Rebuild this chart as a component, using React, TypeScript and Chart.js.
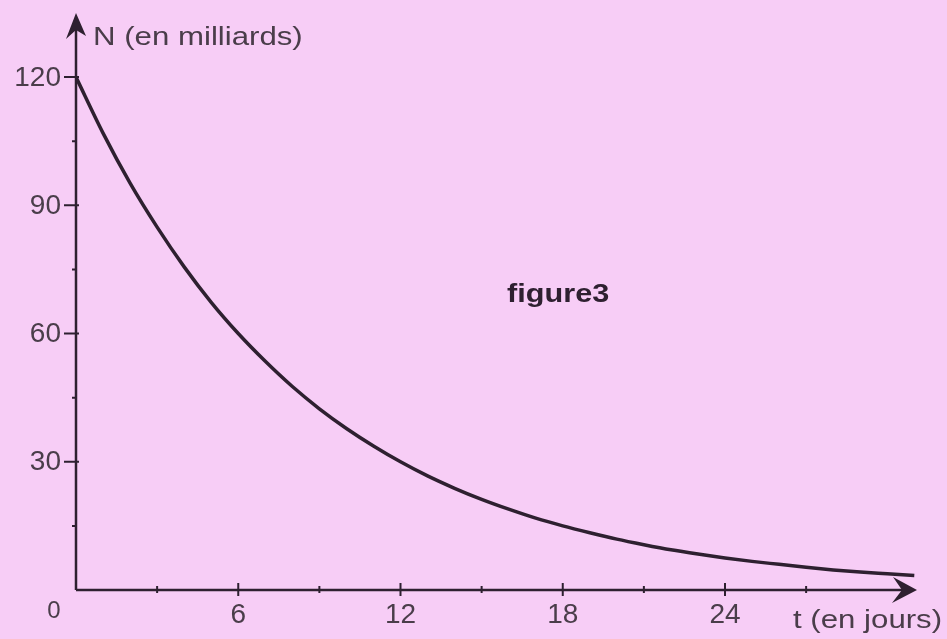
import React, { useEffect, useRef } from "react";
import { Chart, registerables } from "chart.js";

Chart.register(...registerables);

// (t in days, N in billions)
const days = [0, 1, 2, 3, 4, 5, 6, 7, 8, 9, 10, 11, 12, 13, 14, 15, 16, 17, 18, 19, 20, 21, 22, 23, 24, 25, 26, 27, 28, 29, 30, 31];
const population = [120, 106.9, 95.2, 84.9, 75.6, 67.3, 60, 53.5, 47.6, 42.4, 37.8, 33.7, 30, 26.7, 23.8, 21.2, 18.9, 16.8, 15, 13.4, 11.9, 10.6, 9.4, 8.4, 7.5, 6.7, 6.0, 5.3, 4.7, 4.2, 3.8, 3.4];

const xMajorTicks = [6, 12, 18, 24];
const xMinorTicks = [3, 9, 15, 21, 27];
const yMajorTicks = [30, 60, 90, 120];
const yMinorTicks = [15, 45, 75, 105];

const yTitle = "N (en milliards)";
const xTitle = "t (en jours)";
const figureLabel = "figure3";
const originLabel = "0";

const BG = "#f7cdf6";
const INK = "#2e2030";
const TEXT = "#4a3d4a";
const FONT = "'Liberation Sans', Arial, sans-serif";

export default function App() {
  const ref = useRef<HTMLCanvasElement | null>(null);

  useEffect(() => {
    document.body.style.margin = "0";
    document.body.style.background = BG;
    const canvas = ref.current;
    if (!canvas) return;

    const axesPlugin = {
      id: "axesPlugin",
      beforeDatasetsDraw(chart: any) {
        const ctx = chart.ctx as CanvasRenderingContext2D;
        const xs = chart.scales.x;
        const ys = chart.scales.y;
        const x0 = xs.getPixelForValue(0);
        const y0 = ys.getPixelForValue(0);
        const xEnd = xs.getPixelForValue(xs.max);
        const yTop = ys.getPixelForValue(ys.max);
        ctx.save();
        ctx.strokeStyle = INK;
        ctx.fillStyle = INK;
        ctx.lineWidth = 2.5;
        ctx.lineCap = "butt";
        // axes
        ctx.beginPath();
        ctx.moveTo(x0, y0);
        ctx.lineTo(x0, yTop + 8);
        ctx.moveTo(x0, y0);
        ctx.lineTo(xEnd - 8, y0);
        ctx.stroke();
        // y arrow
        ctx.beginPath();
        ctx.moveTo(x0, yTop);
        ctx.lineTo(x0 - 10, yTop + 26);
        ctx.lineTo(x0, yTop + 17);
        ctx.lineTo(x0 + 10, yTop + 23);
        ctx.closePath();
        ctx.fill();
        // x arrow
        ctx.beginPath();
        ctx.moveTo(xEnd, y0);
        ctx.lineTo(xEnd - 24, y0 - 13);
        ctx.lineTo(xEnd - 15, y0);
        ctx.lineTo(xEnd - 25, y0 + 13);
        ctx.closePath();
        ctx.fill();
        // ticks
        ctx.lineWidth = 2;
        ctx.beginPath();
        for (const v of yMajorTicks) {
          const p = ys.getPixelForValue(v);
          ctx.moveTo(x0 - 12, p);
          ctx.lineTo(x0 + 3, p);
        }
        for (const v of yMinorTicks) {
          const p = ys.getPixelForValue(v);
          ctx.moveTo(x0 - 4, p);
          ctx.lineTo(x0, p);
        }
        for (const v of xMajorTicks) {
          const p = xs.getPixelForValue(v);
          ctx.moveTo(p, y0 - 7);
          ctx.lineTo(p, y0 + 6);
        }
        for (const v of xMinorTicks) {
          const p = xs.getPixelForValue(v);
          ctx.moveTo(p, y0 - 4);
          ctx.lineTo(p, y0 + 3);
        }
        ctx.stroke();
        ctx.restore();
      },
      afterDraw(chart: any) {
        const ctx = chart.ctx as CanvasRenderingContext2D;
        const xs = chart.scales.x;
        const ys = chart.scales.y;
        const x0 = xs.getPixelForValue(0);
        const y0 = ys.getPixelForValue(0);
        ctx.save();
        ctx.fillStyle = TEXT;
        ctx.font = `28px ${FONT}`;
        ctx.textAlign = "right";
        ctx.textBaseline = "middle";
        for (const v of yMajorTicks) {
          ctx.fillText(String(v), x0 - 15, ys.getPixelForValue(v) + 1);
        }
        ctx.textAlign = "center";
        ctx.textBaseline = "alphabetic";
        for (const v of xMajorTicks) {
          ctx.fillText(String(v), xs.getPixelForValue(v), y0 + 33);
        }
        ctx.font = `24px ${FONT}`;
        ctx.fillText(originLabel, x0 - 22, y0 + 28);

        const stretched = (text: string, x: number, y: number, font: string, sx: number, color: string) => {
          ctx.save();
          ctx.fillStyle = color;
          ctx.font = font;
          ctx.textAlign = "left";
          ctx.textBaseline = "alphabetic";
          ctx.translate(x, y);
          ctx.scale(sx, 1);
          ctx.fillText(text, 0, 0);
          ctx.restore();
        };
        stretched(yTitle, x0 + 17, 45, `26px ${FONT}`, 1.2, TEXT);
        stretched(xTitle, 793, y0 + 38, `26px ${FONT}`, 1.2, TEXT);
        stretched(figureLabel, 507, 302, `bold 26px ${FONT}`, 1.18, INK);
        ctx.restore();
      },
    };

    const chart = new Chart(canvas, {
      type: "scatter",
      data: {
        datasets: [
          {
            data: days.map((d, i) => ({ x: d, y: population[i] })),
            showLine: true,
            borderColor: INK,
            borderWidth: 3.5,
            pointRadius: 0,
            cubicInterpolationMode: "monotone",
            fill: false,
          },
        ],
      },
      options: {
        animation: false,
        responsive: false,
        maintainAspectRatio: false,
        layout: { padding: { left: 76, right: 30, top: 13, bottom: 49 } },
        plugins: { legend: { display: false }, tooltip: { enabled: false } },
        scales: {
          x: { type: "linear", min: 0, max: 31.1, display: false },
          y: { type: "linear", min: 0, max: 135, display: false },
        },
      },
      plugins: [axesPlugin],
    } as any);

    return () => chart.destroy();
  }, []);

  return (
    <div style={{ position: "fixed", left: 0, top: 0, width: 947, height: 639, background: BG }}>
      <canvas ref={ref} width={947} height={639} style={{ display: "block" }} />
    </div>
  );
}
